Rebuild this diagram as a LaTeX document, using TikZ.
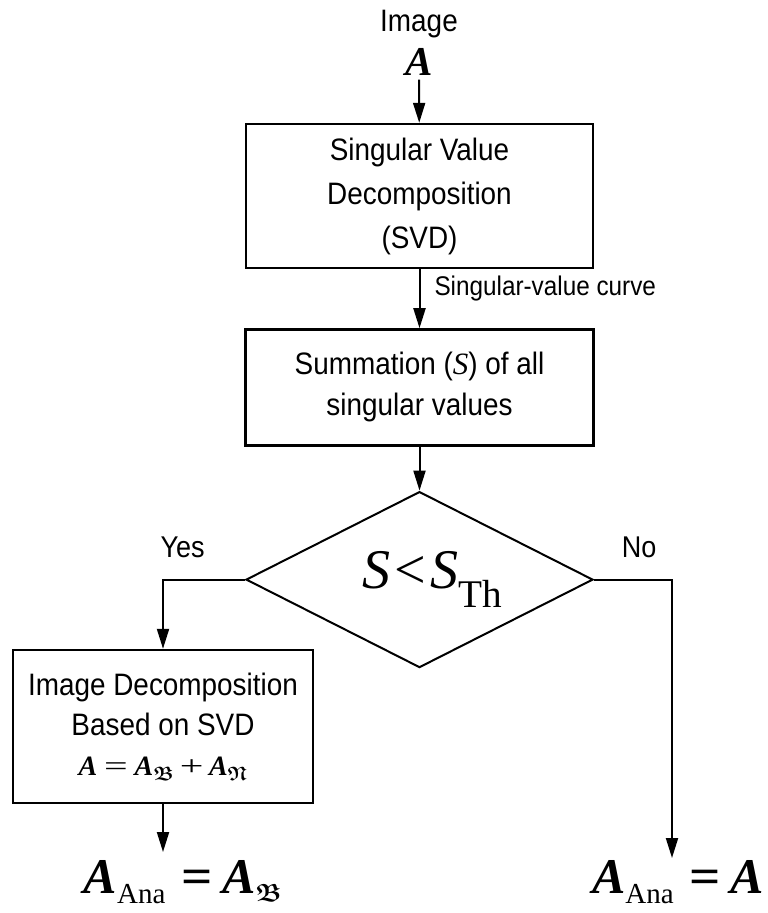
\documentclass[tikz,border=0pt]{standalone}
\usepackage{amsmath,amssymb,bm,graphicx}
\usepackage[no-math]{fontspec}
\setmainfont{Liberation Sans}[FakeStretch=0.9]
\newfontfamily\tms{Liberation Serif}
\usetikzlibrary{arrows.meta,positioning,shapes.geometric}

\newcommand{\bA}{\text{\tms\bfseries\itshape A}}
\newcommand{\iS}{\text{\tms\itshape S}}
\newcommand{\fB}{\boldsymbol{\mathfrak{B}}}
\newcommand{\fN}{\boldsymbol{\mathfrak{N}}}
\newcommand{\weq}{\mathrel{\scalebox{1.5}[1]{\text{\tms =}}}}
\newcommand{\wplus}{\mathbin{\scalebox{1.5}[1]{\text{\tms +}}}}
\newcommand{\beq}{\mathrel{\mkern6mu\scalebox{1.1}[1]{\text{\tms\bfseries =}}\mkern2mu}}
\newcommand{\ana}{\text{\fontsize{29}{29}\selectfont\tms Ana}}

\begin{document}
\begin{tikzpicture}[x=1pt, y=-1pt,
  procbox/.style={draw, line width=2.4pt, rectangle, align=center, inner sep=0pt, font=\fontsize{31}{44}\selectfont},
  decision/.style={draw, line width=2pt, diamond, aspect=2, inner sep=0pt, minimum width=347pt, minimum height=176pt, font=\fontsize{56}{56}\selectfont},
  arr/.style={line width=2pt, -{Triangle[length=20pt,width=12pt]}},
  lbl/.style={inner sep=0pt, font=\fontsize{30}{32}\selectfont},
  result/.style={inner sep=0pt, font=\fontsize{50}{50}\selectfont}]

\useasboundingbox (0,0) rectangle (768,913);

\node[lbl, font=\fontsize{31}{32}\selectfont] (img) at (419,24) {Image};
\node[inner sep=4pt, font=\fontsize{41}{42}\selectfont] (imgA) at (419,62) {$\bA$};
\node[procbox, minimum width=347pt, minimum height=144pt] (svd) at (419.5,196) {Singular Value\\Decomposition\\(SVD)};
\node[procbox, minimum width=348pt, minimum height=116pt, font=\fontsize{31}{41}\selectfont, below=59pt of svd] (sum) {Summation ($\iS$) of all\\singular values};
\node[decision, below=44pt of sum] (cond) {\hspace{26pt}$\iS\mkern3mu\text{\tms <}\mkern3mu\iS_{\text{\tms Th}}$};
\node[procbox, minimum width=300pt, minimum height=153pt, font=\fontsize{31}{40}\selectfont] (decomp) at (163,726.5) {Image Decomposition\\Based on SVD\\{\fontsize{28}{38}\selectfont$\bA\weq\bA_{\fB}\wplus\bA_{\fN}$}};
\node[result] (resyes) at (183,882) {$\bA_{\ana}\beq\bA_{\scriptscriptstyle\fB}$};
\node[result] (resno) at (678,882) {$\bA_{\ana}\beq\bA$};
\coordinate (yesend) at (163,852);
\coordinate (noend) at (672,858);

\draw[arr] (imgA) -- (svd);
\draw[arr] (svd) -- node[lbl, font=\fontsize{27}{28}\selectfont, right, pos=0.32, xshift=14pt] {Singular-value curve} (sum);
\draw[arr] (sum) -- (cond);
\draw[arr] (cond.west) -| node[lbl, pos=0.38, above=21pt] {Yes} (decomp.north);
\draw[arr] (cond.east) -| node[lbl, pos=0.29, above=21pt] {No} (noend);
\draw[arr] (decomp) -- (yesend);

\end{tikzpicture}
\end{document}
